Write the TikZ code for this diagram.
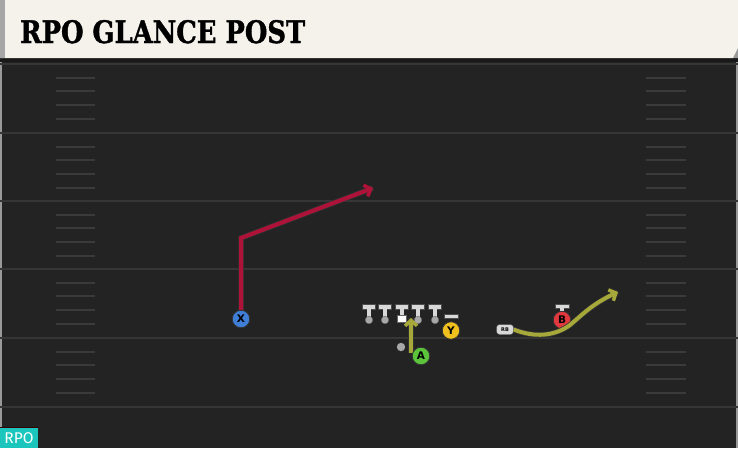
\documentclass[tikz,border=0pt]{standalone}
\usepackage{fontspec}
\usetikzlibrary{arrows.meta}
\newfontfamily\titlefont{DejaVu Serif}[UprightFont=* Bold,UprightFeatures={FakeBold=1.3}]
\newfontfamily\badgefont{Fira Sans}
\newfontfamily\playerfont{DejaVu Sans}

\definecolor{field}{HTML}{232323}
\definecolor{yardline}{HTML}{363636}
\definecolor{hashline}{HTML}{3A3A3A}
\definecolor{header}{HTML}{F4F2EB}
\definecolor{routered}{HTML}{AE1238}
\definecolor{routeolive}{HTML}{A6A83A}
\definecolor{xblue}{HTML}{3E7ED6}
\definecolor{agreen}{HTML}{5BC43A}
\definecolor{yyellow}{HTML}{EFC01E}
\definecolor{bred}{HTML}{E0383C}
\definecolor{rpoteal}{HTML}{1CC6BC}
\definecolor{tgray}{HTML}{D8D8D8}
\definecolor{dotgray}{HTML}{A8A8A8}

% offensive lineman: T with a dot under it
\newcommand{\olman}[1]{\fill[tgray,draw=black!70,thin] (#1-6.5,304.5) rectangle (#1+6.5,309.5);
  \fill[tgray] (#1-2.2,309) rectangle (#1+2.2,318);
  \fill[dotgray,draw=black!60,thin] (#1,320) circle (3.8);}

\tikzset{
  player/.style={circle,draw=black!80,line width=0.8pt,minimum size=17.5pt,inner sep=0pt,
    font=\playerfont\bfseries\fontsize{10.5}{10.5}\selectfont,text=black,fill=#1},
  route/.style={line width=4pt,draw=#1,line join=miter,
    preaction={draw=black!80,line width=5.5pt,-},
    -{Straight Barb[length=5.5pt,width=12pt,line width=3.5pt]}},
}

\begin{document}
\begin{tikzpicture}[x=1pt,y=-1pt]
\useasboundingbox (0,0) rectangle (738,448);
% field
\fill[field] (0,0) rectangle (738,448);
\draw[black!40,line width=1.5pt] (1,60) -- (1,428);
\draw[black!40,line width=1.5pt] (737,60) -- (737,448);
\foreach \y in {64,133,201,269,338,407}
  \draw[yardline,line width=2pt] (0,\y) -- (738,\y);
\foreach \y in {64,133,201,269,338}
  \foreach \k in {1,...,4} {
    \draw[hashline,line width=2pt] (56,\y+13.7*\k) -- (95,\y+13.7*\k);
    \draw[hashline,line width=2pt] (646,\y+13.7*\k) -- (686,\y+13.7*\k);
  }

% header
\fill[black!90] (0,56) rectangle (738,62);
\fill[black!40] (733,58) -- (738,48) -- (738,58) -- cycle;
\fill[header] (0,0) -- (738,0) -- (738,48) -- (733,58) -- (0,58) -- cycle;
\fill[black!35] (0,0) rectangle (5,58);
\node[anchor=base west,inner sep=0pt] (title) at (20,43)
  {\resizebox{285pt}{23pt}{\titlefont RPO GLANCE POST}};

% badge
\draw[black!80!red,line width=1pt] (0,427.5) -- (38,427.5);
\fill[rpoteal] (0,428) rectangle (38,448);
\node[anchor=base,inner sep=0pt,text=white,font=\badgefont\fontsize{15.5}{15.5}\selectfont] (badge) at (19,443.5) {RPO};

% line
\olman{369}
\olman{385}
\olman{418}
\olman{435}
\fill[tgray,draw=black!70,thin] (395.5,304.5) rectangle (408.5,309.5);
\fill[tgray] (399.8,309) rectangle (404.2,315);
\fill[white,draw=black!60,thin] (397,315) rectangle (406.5,322.5);
\fill[dotgray] (401,347) circle (4.2);

% A's route goes under the player
\coordinate (astart) at (411,353);
\coordinate (aend) at (411,318);
\draw[route=routeolive] (astart) -- (aend);

% skill players
\fill[tgray,draw=black!70,thin] (444.5,314) rectangle (458,318);
\fill[tgray,draw=black!70,thin] (555.5,304) rectangle (569,308);
\fill[tgray] (560,307) rectangle (564,313);
\node[player=xblue] (X) at (241,319) {X};
\node[player=yyellow] (Y) at (451,330.5) {Y};
\node[player=agreen] (A) at (421,356) {A};
\node[player=bred] (B) at (562,320) {B};
\node[rounded corners=3pt,fill=tgray,draw=black!70,thin,minimum width=17pt,minimum height=10pt,
  inner sep=0pt,font=\playerfont\bfseries\fontsize{5}{5}\selectfont] (RB) at (505,329.5) {RB};

% routes
\coordinate (xbreak) at (241,238);
\coordinate (xend) at (373,188);
\coordinate (rbend) at (618,292);
\draw[route=routered] (X) -- (xbreak) -- (xend);
\draw[route=routeolive] (RB.east) .. controls (535,338) and (555,336) .. (570,325)
  .. controls (582,315) and (592,304) .. (rbend);
\end{tikzpicture}
\end{document}
